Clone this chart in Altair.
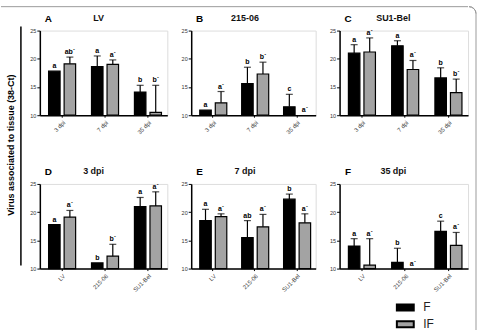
import altair as alt
import pandas as pd

SERIES = ["F", "IF"]
DPI = ["3 dpi", "7 dpi", "35 dpi"]
VIRUS = ["LV", "215-06", "SU1-Bel"]
COLORS = ["#000000", "#a3a3a3"]

# Panel A: LV by dpi
A_F_MEAN = [17.8, 18.6, 14.1]
A_F_UPPER = [None, 20.5, 15.3]
A_IF_MEAN = [19.1, 19.0, 10.5]
A_IF_UPPER = [20.3, 19.8, 15.3]
A_F_LET = ["a", "a", "b"]
A_IF_LET = ["ab´", "a´", "b´"]

# Panel B: 215-06 by dpi
B_F_MEAN = [10.9, 15.6, 11.5]
B_F_UPPER = [None, 18.5, 13.7]
B_IF_MEAN = [12.2, 17.3, None]
B_IF_UPPER = [14.2, 19.4, None]
B_F_LET = ["a", "b", "c"]
B_IF_LET = ["a´", "b´", "a´"]

# Panel C: SU1-Bel by dpi
C_F_MEAN = [21.0, 22.3, 16.6]
C_F_UPPER = [22.5, 23.2, 18.4]
C_IF_MEAN = [21.2, 18.1, 14.0]
C_IF_UPPER = [23.7, 19.7, 16.4]
C_F_LET = ["a", "a", "b"]
C_IF_LET = ["a´", "a´", "b´"]

# Panel D: 3 dpi by virus
D_F_MEAN = [17.8, 11.0, 21.0]
D_F_UPPER = [None, None, 22.6]
D_IF_MEAN = [19.1, 12.2, 21.1]
D_IF_UPPER = [20.3, 14.3, 23.6]
D_F_LET = ["a", "b", "a"]
D_IF_LET = ["a´", "b´", "a´"]

# Panel E: 7 dpi by virus
E_F_MEAN = [18.5, 15.5, 22.3]
E_F_UPPER = [20.5, 18.5, 23.2]
E_IF_MEAN = [19.2, 17.4, 18.1]
E_IF_UPPER = [19.7, 19.6, 19.7]
E_F_LET = ["a", "ab", "b"]
E_IF_LET = ["a´", "a´", "a´"]

# Panel F: 35 dpi by virus
F_F_MEAN = [14.0, 11.1, 16.6]
F_F_UPPER = [15.3, 13.6, 18.4]
F_IF_MEAN = [10.6, None, 14.1]
F_IF_UPPER = [15.3, None, 16.4]
F_F_LET = ["a", "b", "c"]
F_IF_LET = ["a´", "a´", "a´"]

Y_TICKS = [10, 15, 20, 25]
Y_TITLE = "Virus associated to tissue (38-Ct)"
FONT = "Liberation Sans"


def table(cats, f_mean, f_up, i_mean, i_up, f_let, i_let):
    rows = []
    for k, c in enumerate(cats):
        for s, m, u, l in (("F", f_mean[k], f_up[k], f_let[k]),
                           ("IF", i_mean[k], i_up[k], i_let[k])):
            ly = u if u is not None else (m if m is not None else 10)
            rows.append({"cat": c, "series": s, "mean": m, "upper": u,
                         "label_y": ly, "letter": l, "base": 10})
    return pd.DataFrame(rows)


YSCALE = alt.Scale(domain=[10, 25], nice=False, zero=False)
YAXIS = alt.Axis(values=Y_TICKS, format="d", labelFontSize=5.5, labelColor="#333",
                 labelPadding=1, tickSize=3, tickColor="black", tickWidth=1,
                 domainColor="black", domainWidth=1.5, grid=False)
XAXIS = alt.Axis(labelAngle=-45, labelFontSize=6, labelColor="#444", labelPadding=2,
                 tickSize=2, tickColor="black", domainColor="black", domainWidth=1.5,
                 grid=False)
LEGEND = alt.Legend(orient="none", legendX=358, legendY=269, title=None,
                    symbolType="M-1.06,-0.38H1.06V0.38H-1.06Z", symbolSize=256,
                    symbolStrokeColor="black", symbolStrokeWidth=2, symbolOpacity=1,
                    labelFontSize=12, labelOffset=9, labelColor="#222", labelFont=FONT,
                    rowPadding=0, padding=0)


def yenc(field):
    return alt.Y(f"{field}:Q", scale=YSCALE, title=None, axis=YAXIS)


def panel(df, cats, letter, name, name_x, w, extras=()):
    base = alt.Chart(df).encode(
        x=alt.X("cat:N", sort=cats, title=None,
                scale=alt.Scale(paddingInner=0.37, paddingOuter=0.17, align=0.6),
                axis=XAXIS),
        xOffset=alt.XOffset("series:N", sort=SERIES,
                            scale=alt.Scale(paddingInner=0.26, paddingOuter=0)),
    )
    bars = base.transform_filter("isValid(datum.mean)").mark_bar(
        stroke="black", strokeWidth=1.2).encode(
        y=yenc("mean"), y2=alt.Y2("base:Q"),
        color=alt.Color("series:N", scale=alt.Scale(domain=SERIES, range=COLORS),
                        legend=LEGEND))
    err = base.transform_filter("isValid(datum.upper)").mark_rule(
        color="black", strokeWidth=1.2).encode(y=yenc("mean"), y2=alt.Y2("upper:Q"))
    cap = base.transform_filter("isValid(datum.upper)").mark_tick(
        color="black", thickness=1.2, size=7).encode(y=yenc("upper"))
    lab = base.mark_text(fontSize=7, fontWeight="bold", baseline="bottom", dy=-2,
                         color="black", font=FONT).encode(
        y=yenc("label_y"), text="letter:N")
    lt = alt.Chart(pd.DataFrame({"t": [letter]})).mark_text(
        fontSize=10, fontWeight="bold", align="center", baseline="middle",
        font=FONT, color="black").encode(x=alt.value(8.5), y=alt.value(-12), text="t:N")
    nm = alt.Chart(pd.DataFrame({"t": [name]})).mark_text(
        fontSize=9, fontWeight="bold", align="center", baseline="middle",
        font=FONT, color="#111").encode(x=alt.value(name_x), y=alt.value(-13), text="t:N")
    return alt.layer(bars, err, cap, lab, lt, nm, *extras).properties(width=w, height=85)


one = pd.DataFrame({"t": [Y_TITLE]})
ytitle = alt.Chart(one).mark_text(angle=270, fontSize=9, fontWeight="bold", font=FONT,
                                  align="center", baseline="middle", color="black").encode(
    x=alt.value(-29), y=alt.value(115), text="t:N")
vline = alt.Chart(one).mark_rule(color="black", strokeWidth=1.5).encode(
    x=alt.value(-19), y=alt.value(-4), y2=alt.value(236))
toprule = alt.Chart(one).mark_rule(color="#9a9a9a", strokeWidth=1).encode(
    x=alt.value(-39), x2=alt.value(430), y=alt.value(-24))
rightrule = alt.Chart(one).mark_rule(color="#9a9a9a", strokeWidth=1).encode(
    x=alt.value(137), y=alt.value(-17), y2=alt.value(302))
corner = alt.Chart(one).mark_arc(radius=7, radius2=7, theta=0, theta2=1.5708,
                                 stroke="#9a9a9a", strokeWidth=1, fillOpacity=0).encode(
    x=alt.value(130), y=alt.value(-17))

pA = panel(table(DPI, A_F_MEAN, A_F_UPPER, A_IF_MEAN, A_IF_UPPER, A_F_LET, A_IF_LET),
           DPI, "A", "LV", 59, 128, (ytitle, vline, toprule))
pB = panel(table(DPI, B_F_MEAN, B_F_UPPER, B_IF_MEAN, B_IF_UPPER, B_F_LET, B_IF_LET),
           DPI, "B", "215-06", 54, 125)
pC = panel(table(DPI, C_F_MEAN, C_F_UPPER, C_IF_MEAN, C_IF_UPPER, C_F_LET, C_IF_LET),
           DPI, "C", "SU1-Bel", 54, 129, (rightrule, corner))
pD = panel(table(VIRUS, D_F_MEAN, D_F_UPPER, D_IF_MEAN, D_IF_UPPER, D_F_LET, D_IF_LET),
           VIRUS, "D", "3 dpi", 54, 128)
pE = panel(table(VIRUS, E_F_MEAN, E_F_UPPER, E_IF_MEAN, E_IF_UPPER, E_F_LET, E_IF_LET),
           VIRUS, "E", "7 dpi", 54, 125)
pF = panel(table(VIRUS, F_F_MEAN, F_F_UPPER, F_IF_MEAN, F_IF_UPPER, F_F_LET, F_IF_LET),
           VIRUS, "F", "35 dpi", 54, 129)

chart = alt.concat(pA, pB, pC, pD, pE, pF, columns=3, bounds="flush",
                   spacing={"row": 69, "column": 24}).properties(
    padding={"left": 0, "top": 3, "right": 0, "bottom": 0}
).configure_view(stroke=None).configure(font=FONT)

chart.save("out.html", embed_options={"renderer": "svg", "actions": False})
